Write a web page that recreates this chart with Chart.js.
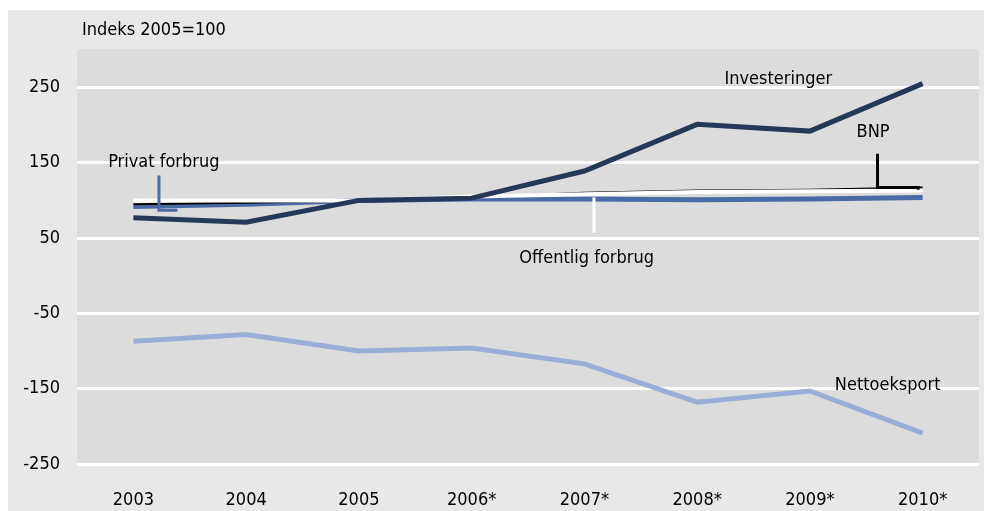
<!DOCTYPE html>
<html>
<head>
<meta charset="utf-8">
<script src="https://cdn.jsdelivr.net/npm/chart.js@4"></script>
<style>
  html, body { margin: 0; padding: 0; background: #fff; }
  #box { position: absolute; left: 8px; top: 10px; width: 976px; height: 501px; background: #e8e8e8; }
  #wrap { position: absolute; left: 0; top: 0; width: 984px; height: 511px; }
</style>
</head>
<body>
<div id="box"></div>
<div id="wrap"><canvas id="myChart" width="984" height="511"></canvas></div>
<script>
// data
var years = ["2003", "2004", "2005", "2006*", "2007*", "2008*", "2009*", "2010*"];
var investeringer = [77, 71, 100, 103, 139, 201, 192, 255];
var bnp = [95, 97, 100, 104, 110, 113, 114, 117];
var privatForbrug = [92, 95, 100, 102, 102, 101, 102, 104];
var offentligForbrug = [100, 100, 100, 105, 108, 111, 112, 113];
var nettoeksport = [-87, -78, -100, -96, -117, -168, -153, -209];
var yTicks = [-250, -150, -50, 50, 150, 250];

var FONT = "'DejaVu Sans Condensed', 'DejaVu Sans', sans-serif";
var SIZE = 18;

// labels in chart values (x = category index, y = axis value)
var notes = [
  { text: "Privat forbrug", x: 0.27, y: 150 },
  { text: "Investeringer", x: 5.72, y: 261 },
  { text: "BNP", x: 6.56, y: 190 },
  { text: "Offentlig forbrug", x: 4.02, y: 23 },
  { text: "Nettoeksport", x: 6.69, y: -145 }
];
var leaders = [
  { color: "#4a6aa5", width: 3, pts: [[0.227, 133], [0.227, 87], [0.39, 87]] },
  { color: "#000000", width: 3, pts: [[6.6, 162], [6.6, 117], [6.96, 117], [6.96, 114]] },
  { color: "#ffffff", width: 3, pts: [[4.085, 104], [4.085, 57]] }
];

var backdrop = {
  id: "backdrop",
  beforeDraw: function (chart) {
    var a = chart.chartArea, ctx = chart.ctx;
    ctx.save();
    ctx.fillStyle = "#dcdcdc";
    ctx.fillRect(a.left, a.top, a.right - a.left, a.bottom - a.top);
    ctx.restore();
  }
};

var notesPlugin = {
  id: "notes",
  afterDatasetsDraw: function (chart) {
    var ctx = chart.ctx, xs = chart.scales.x, ys = chart.scales.y;
    ctx.save();
    leaders.forEach(function (l) {
      ctx.strokeStyle = l.color;
      ctx.lineWidth = l.width;
      ctx.beginPath();
      l.pts.forEach(function (p, i) {
        var px = xs.getPixelForValue(p[0]), py = ys.getPixelForValue(p[1]);
        if (i === 0) ctx.moveTo(px, py); else ctx.lineTo(px, py);
      });
      ctx.stroke();
    });
    ctx.fillStyle = "#000";
    ctx.font = SIZE + "px " + FONT;
    ctx.textAlign = "center";
    ctx.textBaseline = "middle";
    notes.forEach(function (n) {
      ctx.fillText(n.text, xs.getPixelForValue(n.x), ys.getPixelForValue(n.y));
    });
    ctx.textAlign = "left";
    ctx.fillText("Indeks 2005=100", chart.chartArea.left + 5, 30);
    ctx.restore();
  }
};

function line(label, data, color, width) {
  return {
    label: label,
    data: data,
    borderColor: color,
    backgroundColor: color,
    borderWidth: width,
    pointRadius: 0,
    tension: 0,
    fill: false
  };
}

// first dataset is drawn on top
new Chart("myChart", {
  type: "line",
  data: {
    labels: years,
    datasets: [
      line("Investeringer", investeringer, "#253858", 5),
      line("Offentlig forbrug", offentligForbrug, "#ffffff", 4),
      line("BNP", bnp, "#000000", 2),
      line("Privat forbrug", privatForbrug, "#4a6aa5", 5),
      line("Nettoeksport", nettoeksport, "#9aadd6", 5)
    ]
  },
  options: {
    responsive: false,
    animation: false,
    layout: { padding: { left: 0, right: 5, top: 49, bottom: 0 } },
    plugins: {
      legend: { display: false },
      tooltip: { enabled: false }
    },
    scales: {
      x: {
        offset: true,
        grid: { display: false },
        border: { display: false },
        ticks: { color: "#000", font: { family: FONT, size: SIZE }, padding: 18 },
        afterFit: function (axis) { axis.height = 47; }
      },
      y: {
        min: -250,
        max: 301,
        border: { display: false },
        grid: { color: "#ffffff", lineWidth: 3, drawTicks: false },
        ticks: { color: "#000", font: { family: FONT, size: SIZE }, padding: 17 },
        afterBuildTicks: function (axis) {
          axis.ticks = yTicks.map(function (v) { return { value: v }; });
        },
        afterFit: function (axis) { axis.width = 77; }
      }
    }
  },
  plugins: [backdrop, notesPlugin]
});
</script>
</body>
</html>
